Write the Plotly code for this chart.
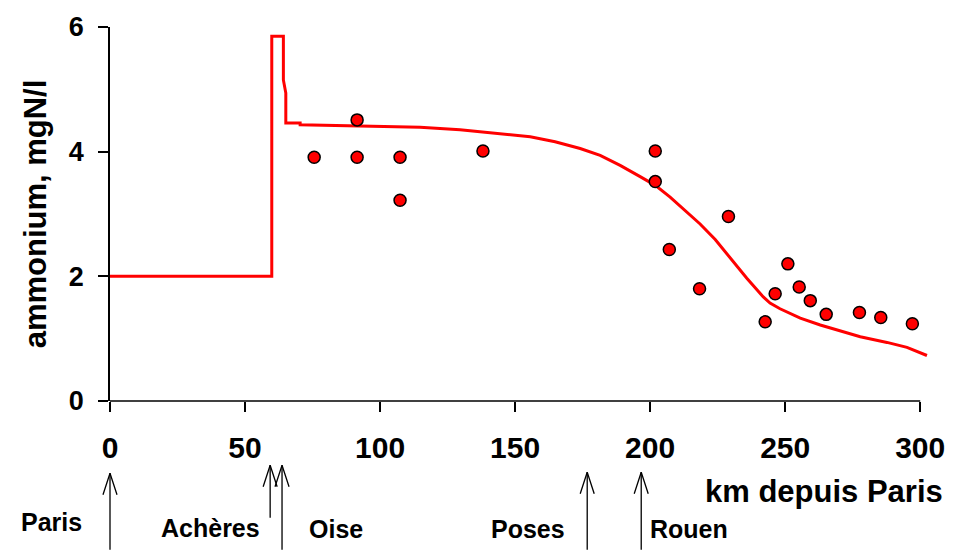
import plotly.graph_objects as go

# Model (simulated) ammonium along the Seine, km from Paris
model_km = [0, 59.9, 59.9, 64.2, 64.2, 65.1, 65.1, 70.4, 70.4, 100.0, 114.8, 129.6,
            144.4, 155.6, 164.8, 174.1, 181.5, 188.9, 196.3, 201.9, 207.4, 213.6,
            218.5, 224.1, 229.6, 235.8, 241.9, 244.4, 248.1, 255.6, 263.0, 270.4,
            277.8, 287.7, 295.1, 302.5]
model_nh4 = [2.0, 2.0, 5.85, 5.85, 5.15, 4.94, 4.46, 4.46, 4.43, 4.41, 4.39, 4.35,
             4.29, 4.24, 4.16, 4.05, 3.94, 3.78, 3.60, 3.46, 3.27, 3.03,
             2.84, 2.59, 2.29, 1.97, 1.67, 1.57, 1.48, 1.33, 1.22, 1.13,
             1.03, 0.94, 0.86, 0.73]

# Observed ammonium
obs_km = [75.6, 91.5, 91.5, 107.4, 107.4, 138.1, 201.9, 201.9, 207.1, 218.3, 229.0,
          242.6, 246.3, 251.0, 255.2, 259.3, 265.2, 277.5, 285.4, 297.1]
obs_nh4 = [3.91, 4.51, 3.91, 3.91, 3.22, 4.01, 4.01, 3.52, 2.43, 1.80, 2.96,
           1.27, 1.72, 2.20, 1.83, 1.61, 1.39, 1.42, 1.34, 1.24]

# Landmarks along the river
site_names = ["Paris", "Achères", "Oise", "Poses", "Rouen"]
site_km = [0, 59.3, 63.7, 176.7, 196.7]

x_ticks = [0, 50, 100, 150, 200, 250, 300]
y_ticks = [0, 2, 4, 6]

FONT = "Liberation Sans, Arial, sans-serif"

fig = go.Figure()
fig.add_trace(go.Scatter(x=model_km, y=model_nh4, mode="lines",
                         line=dict(color="#ff0000", width=3), showlegend=False,
                         hoverinfo="skip"))
fig.add_trace(go.Scatter(x=obs_km, y=obs_nh4, mode="markers",
                         marker=dict(color="#ff0000", size=12,
                                     line=dict(color="#000000", width=1.5)),
                         showlegend=False, cliponaxis=False))

# x axis line only up to 300 km
fig.add_shape(type="line", xref="x", yref="y domain", x0=0, x1=300, y0=0, y1=0,
              line=dict(color="#000000", width=1.5))

# arrows and labels for landmarks
tip_px = [474, 466, 466, 473, 473]      # arrow tip (pixel rows)
tail_len = [78, 54, 86, 79, 79]          # shaft length (px)
label_side = ["right", "right", "left", "right", "left"]
label_shift = [-26, -8, 25, -20, 7]
label_row = [523, 529, 530, 530, 530]
plot_top, plot_h = 23, 378
annotations = []
for name, km, tp, tl, side, sh, row in zip(site_names, site_km, tip_px, tail_len,
                                           label_side, label_shift, label_row):
    ytip = (plot_top + plot_h - tp) / plot_h
    for ax_, ay_ in [(0, tl), (-7.5, 23), (7.5, 23)]:
        annotations.append(dict(x=km, y=ytip, xref="x", yref="paper", text="",
                                showarrow=True, ax=ax_, ay=ay_, arrowhead=0,
                                arrowwidth=1.3, arrowcolor="#000000",
                                standoff=0, startstandoff=0, font=dict(size=1)))
    annotations.append(dict(x=km, y=(plot_top + plot_h - row) / plot_h, xref="x",
                            yref="paper", text=name, showarrow=False,
                            xanchor=side, yanchor="middle", xshift=sh,
                            font=dict(family=FONT, size=25, color="#000000",
                                      weight="bold")))

annotations.append(dict(x=(945 - 110) / 820.8, y=(401 - 492) / 378, xref="paper",
                        yref="paper", text="km depuis Paris", showarrow=False,
                        xanchor="right", yanchor="middle",
                        font=dict(family=FONT, size=31, color="#000000",
                                  weight="bold")))

fig.update_layout(
    width=968, height=552,
    margin=dict(l=110, r=37, t=23, b=151, pad=0),
    paper_bgcolor="white", plot_bgcolor="white",
    annotations=annotations,
    xaxis=dict(range=[0, 304], tickvals=x_ticks, showgrid=False, zeroline=False,
               showline=False, ticks="outside", ticklen=10, tickwidth=1.5,
               tickcolor="#000000", ticklabelstandoff=10,
               tickfont=dict(family=FONT, size=30, color="#000000", weight="bold")),
    yaxis=dict(range=[0, 6], tickvals=y_ticks, showgrid=False, zeroline=False,
               showline=True, linecolor="#000000", linewidth=1.5,
               ticks="outside", ticklen=10, tickwidth=1.5, tickcolor="#000000",
               ticklabelstandoff=9,
               tickfont=dict(family=FONT, size=27, color="#000000", weight="bold"),
               title=dict(text="ammonium, mgN/l", standoff=13,
                          font=dict(family=FONT, size=31, color="#000000",
                                    weight="bold"))),
)

fig.write_html("out.html")
